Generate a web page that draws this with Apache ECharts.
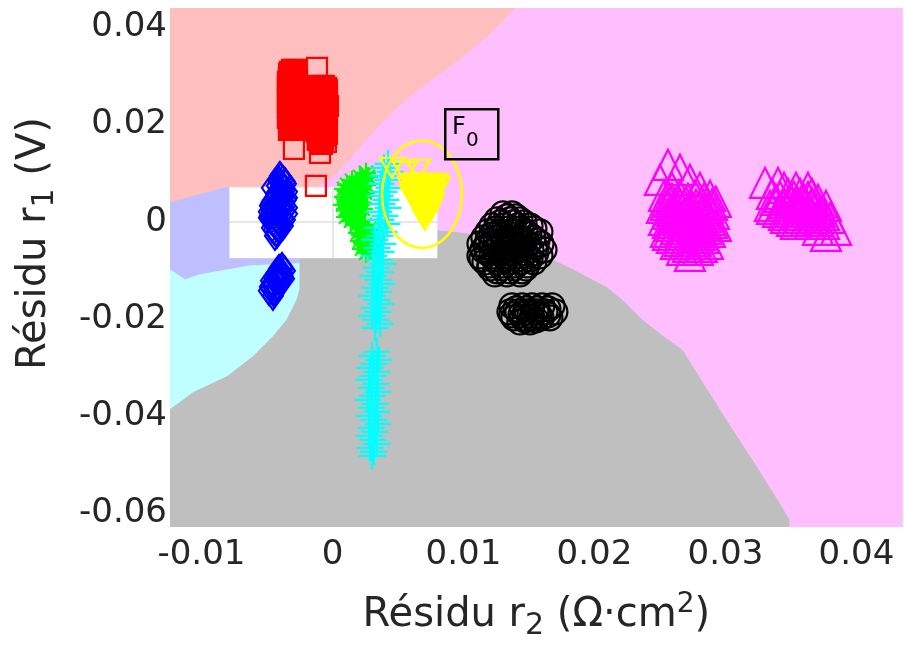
<!DOCTYPE html>
<html><head><meta charset="utf-8">
<script src="https://cdn.jsdelivr.net/npm/echarts@6.0.0/dist/echarts.min.js"></script>
<style>html,body{margin:0;padding:0;background:#fff}#c{width:904px;height:647px}</style>
</head><body><div id="c"></div>
<script>
// ---- axis ticks ----
const xTicks = [-0.01, 0, 0.01, 0.02, 0.03, 0.04];
const yTicks = [-0.06, -0.04, -0.02, 0, 0.02, 0.04];
const xRange = [-0.0124, 0.04353];
const yRange = [-0.0628, 0.044];

// ---- decision regions (polygons in data units) ----
const regionRouge = [[-0.0124,0.044],[0.01401,0.044],[0.01202,0.03848],[0.00973,0.03333],[0.00744,0.02881],[0.00592,0.02572],[0.00401,0.02099],[0.00263,0.01687],[0.00111,0.01214],[-0.00019,0.00864],[-0.00111,0.0072],[-0.0079,0.0072],[-0.01011,0.00556],[-0.0124,0.00391]];
const regionBleu = [[-0.0124,0.00391],[-0.01011,0.00556],[-0.0079,0.0072],[-0.0079,-0.0076],[-0.00248,-0.0076],[-0.00248,-0.00864],[-0.0063,-0.00905],[-0.01011,-0.01091],[-0.01126,-0.01193],[-0.0124,-0.00988]];
const regionCyan = [[-0.0124,-0.00988],[-0.01126,-0.01193],[-0.01011,-0.01091],[-0.0063,-0.00905],[-0.00248,-0.00864],[-0.00248,-0.01399],[-0.00271,-0.01605],[-0.00347,-0.02016],[-0.00454,-0.02366],[-0.00607,-0.02778],[-0.00805,-0.03189],[-0.01065,-0.03519],[-0.0124,-0.03868]];
const regionNoir = [[-0.0124,-0.03868],[-0.01065,-0.03519],[-0.00805,-0.03189],[-0.00607,-0.02778],[-0.00454,-0.02366],[-0.00347,-0.02016],[-0.00271,-0.01605],[-0.00248,-0.01399],[-0.00248,-0.0076],[0.00805,-0.0076],[0.00805,-0.00165],[0.01027,-0.00226],[0.01279,-0.00412],[0.01584,-0.00638],[0.01851,-0.00988],[0.02095,-0.01337],[0.02218,-0.01605],[0.0237,-0.02016],[0.02538,-0.02366],[0.02676,-0.02634],[0.02805,-0.03189],[0.03011,-0.04074],[0.0321,-0.04897],[0.03416,-0.05782],[0.03492,-0.06132],[0.03492,-0.0628],[-0.0124,-0.0628]];
const regionMagenta = [[0.01401,0.044],[0.04353,0.044],[0.04353,-0.0628],[0.03492,-0.0628],[0.03492,-0.06132],[0.03416,-0.05782],[0.0321,-0.04897],[0.03011,-0.04074],[0.02805,-0.03189],[0.02676,-0.02634],[0.02538,-0.02366],[0.0237,-0.02016],[0.02218,-0.01605],[0.02095,-0.01337],[0.01851,-0.00988],[0.01584,-0.00638],[0.01279,-0.00412],[0.01027,-0.00226],[0.00805,-0.00165],[0.00805,0.0072],[-0.00111,0.0072],[-0.00019,0.00864],[0.00111,0.01214],[0.00263,0.01687],[0.00401,0.02099],[0.00592,0.02572],[0.00744,0.02881],[0.00973,0.03333],[0.01202,0.03848]];

// ---- residual clusters [r2, r1] ----
const redSquares = [[-0.00309,0.03128],[-0.00279,0.03128],[-0.00332,0.03045],[-0.00294,0.03045],[-0.00317,0.02963],[-0.00271,0.02963],[-0.0034,0.02881],[-0.00286,0.02881],[-0.00309,0.02798],[-0.00271,0.02798],[-0.00332,0.02716],[-0.00294,0.02716],[-0.00317,0.02634],[-0.00279,0.02634],[-0.0034,0.02551],[-0.00302,0.02551],[-0.00324,0.02469],[-0.00271,0.02469],[-0.00309,0.02387],[-0.00286,0.02387],[-0.00332,0.02305],[-0.00279,0.02305],[-0.00317,0.02222],[-0.00294,0.02222],[-0.0034,0.0214],[-0.00271,0.0214],[-0.00324,0.02058],[-0.00302,0.02058],[-0.00309,0.01975],[-0.00279,0.01975],[-0.00332,0.01893],[-0.00286,0.01893],[-0.00294,0.01502],
 [-0.00324,0.03086],[-0.00286,0.03086],[-0.00309,0.03004],[-0.00271,0.03004],[-0.00332,0.02922],[-0.00294,0.02922],[-0.00317,0.0284],[-0.00279,0.0284],[-0.0034,0.02757],[-0.00302,0.02757],[-0.00324,0.02675],[-0.00271,0.02675],[-0.00309,0.02593],[-0.00286,0.02593],[-0.00332,0.0251],[-0.00294,0.0251],[-0.00317,0.02428],[-0.00279,0.02428],[-0.0034,0.02346],[-0.00302,0.02346],[-0.00324,0.02263],[-0.00271,0.02263],[-0.00309,0.02181],[-0.00286,0.02181],[-0.00332,0.02099],[-0.00294,0.02099],[-0.00317,0.02016],[-0.00279,0.02016],[-0.00324,0.01934],[-0.00302,0.01934],
 [-0.00118,0.03169],[-0.00111,0.02798],[-0.00065,0.02798],[-0.00088,0.02716],[-0.00042,0.02716],[-0.00118,0.02634],[-0.00073,0.02634],[-0.00095,0.02551],[-0.0005,0.02551],[-0.00111,0.02469],[-0.00057,0.02469],[-0.0008,0.02387],[-0.00034,0.02387],[-0.00118,0.02305],[-0.00065,0.02305],[-0.00095,0.02222],[-0.0005,0.02222],[-0.00111,0.0214],[-0.00073,0.0214],[-0.00088,0.02058],[-0.00042,0.02058],[-0.00118,0.01975],[-0.00057,0.01975],[-0.00103,0.01893],[-0.00065,0.01893],[-0.0008,0.01811],[-0.00042,0.01811],[-0.00111,0.01728],[-0.00073,0.01728],[-0.00095,0.01646],[-0.0005,0.01646],[-0.00095,0.0142],[-0.00126,0.00741],
 [-0.00095,0.02757],[-0.0005,0.02757],[-0.00111,0.02675],[-0.00073,0.02675],[-0.00088,0.02593],[-0.00042,0.02593],[-0.00118,0.0251],[-0.00065,0.0251],[-0.00095,0.02428],[-0.0005,0.02428],[-0.00111,0.02346],[-0.00073,0.02346],[-0.00088,0.02263],[-0.00042,0.02263],[-0.00118,0.02181],[-0.00057,0.02181],[-0.00095,0.02099],[-0.00065,0.02099],[-0.00111,0.02016],[-0.0005,0.02016],[-0.0008,0.01934],[-0.00042,0.01934],[-0.00118,0.01852],[-0.00065,0.01852],[-0.00095,0.0177],[-0.0005,0.0177],[-0.00111,0.01687],[-0.00073,0.01687],[-0.0008,0.01605]];
const blueDiamonds = [[-0.00401,0.00947],[-0.00378,0.00864],[-0.00416,0.00864],[-0.00355,0.00782],[-0.00393,0.00782],[-0.0037,0.007],[-0.00462,0.007],[-0.00347,0.00617],[-0.00393,0.00617],[-0.0037,0.00535],[-0.00416,0.00535],[-0.00355,0.00453],[-0.00401,0.00453],[-0.00447,0.00453],[-0.00378,0.0037],[-0.00424,0.0037],[-0.00469,0.0037],[-0.00347,0.00288],[-0.00401,0.00288],[-0.00454,0.00288],[-0.0037,0.00206],[-0.00424,0.00206],[-0.00485,0.00206],[-0.00393,0.00123],[-0.00447,0.00123],[-0.00477,0.00123],[-0.00363,0.00041],[-0.00416,0.00041],[-0.00469,0.00041],[-0.00393,-0.00041],[-0.00439,-0.00041],[-0.00416,-0.00123],[-0.00462,-0.00123],[-0.00431,-0.00206],[-0.00439,-0.00288],
 [-0.00393,0.00905],[-0.00363,0.00823],[-0.00408,0.00823],[-0.00378,0.00741],[-0.00424,0.00741],[-0.00363,0.00658],[-0.00408,0.00658],[-0.00378,0.00576],[-0.00431,0.00576],[-0.00347,0.00494],[-0.00393,0.00494],[-0.00439,0.00494],[-0.0037,0.00412],[-0.00416,0.00412],[-0.00462,0.00412],[-0.00363,0.00329],[-0.00439,0.00329],[-0.00477,0.00329],[-0.00393,0.00247],[-0.00439,0.00247],[-0.00469,0.00247],[-0.00347,0.00165],[-0.00408,0.00165],[-0.00462,0.00165],[-0.00378,0.00082],[-0.00431,0.00082],[-0.00485,0.00082],[-0.00408,0.0],[-0.00454,0.0],[-0.00378,-0.00082],[-0.00424,-0.00082],[-0.00447,-0.00165],[-0.00408,-0.00165],[-0.00424,-0.00247],
 [-0.00385,-0.00926],[-0.00363,-0.01008],[-0.00408,-0.01008],[-0.00393,-0.01091],[-0.00431,-0.01091],[-0.0037,-0.01173],[-0.00416,-0.01173],[-0.00401,-0.01255],[-0.00454,-0.01255],[-0.00431,-0.01337],[-0.00477,-0.01337],[-0.00447,-0.0142],[-0.00485,-0.0142],[-0.00454,-0.01523],
 [-0.00378,-0.00967],[-0.00408,-0.00967],[-0.00385,-0.01049],[-0.00424,-0.01049],[-0.00378,-0.01132],[-0.00408,-0.01132],[-0.00447,-0.01132],[-0.00393,-0.01214],[-0.00431,-0.01214],[-0.00469,-0.01214],[-0.00416,-0.01296],[-0.00462,-0.01296],[-0.00439,-0.01379],[-0.00469,-0.01379],[-0.00447,-0.01461]];
const greenStars = [[0.00256,0.01008],[0.0021,0.00926],[0.00271,0.00926],[0.00149,0.00844],[0.00233,0.00844],[0.00111,0.00761],[0.00187,0.00761],[0.00256,0.00761],[0.00088,0.00679],[0.00149,0.00679],[0.00218,0.00679],[0.00118,0.00597],[0.00187,0.00597],[0.00248,0.00597],[0.00088,0.00514],[0.00156,0.00514],[0.00225,0.00514],[0.00111,0.00432],[0.00179,0.00432],[0.0008,0.0035],[0.00141,0.0035],[0.0021,0.0035],[0.00103,0.00267],[0.00172,0.00267],[0.00233,0.00267],[0.00134,0.00185],[0.00195,0.00185],[0.00103,0.00103],[0.00164,0.00103],[0.00141,0.00021],[0.0021,0.00021],[0.00187,-0.00062],[0.00248,-0.00062],[0.00218,-0.00144],[0.00279,-0.00144],[0.00195,-0.00226],[0.00256,-0.00226],[0.00233,-0.00309],[0.00294,-0.00309],[0.0021,-0.00391],[0.00271,-0.00391],[0.00241,-0.00473],[0.00294,-0.00473],[0.00225,-0.00556],[0.00279,-0.00556],[0.00256,-0.00638],
 [0.00179,0.00802],[0.0021,0.00802],[0.00141,0.0072],[0.00225,0.0072],[0.00111,0.00638],[0.00179,0.00638],[0.00149,0.00556],[0.00218,0.00556],[0.00126,0.00473],[0.00195,0.00473],[0.00156,0.00391],[0.00225,0.00391],[0.00118,0.00309],[0.00195,0.00309],[0.00149,0.00226],[0.00126,0.00144],[0.00187,0.00144],[0.00172,0.00062],[0.00225,-0.00103],[0.00248,-0.00185],[0.00218,-0.00267],[0.00256,-0.0035],[0.00233,-0.00432],[0.00263,-0.00514]];
const cyanPlus = [[0.00424,0.01193],[0.00393,0.01111],[0.00439,0.01029],[0.00385,0.00947],[0.00416,0.00864],[0.0037,0.00782],[0.00431,0.007],[0.00393,0.00617],[0.00363,0.00535],[0.00408,0.00453],[0.00378,0.0037],[0.00424,0.00288],[0.00355,0.00206],[0.00401,0.00123],[0.0037,0.00041],[0.00416,-0.00041],[0.00347,-0.00123],[0.00393,-0.00206],[0.00363,-0.00288],[0.00324,-0.0037],[0.00385,-0.00453],[0.0034,-0.00535],[0.0037,-0.00617],[0.00317,-0.007],[0.00355,-0.00782],[0.00385,-0.00864],[0.00332,-0.00947],[0.00363,-0.01029],[0.00309,-0.01111],[0.00347,-0.01193],[0.00378,-0.01276],[0.00324,-0.01358],[0.00355,-0.0144],[0.00302,-0.01523],[0.0034,-0.01605],[0.0037,-0.01687],[0.00317,-0.0177],[0.00347,-0.01852],[0.00302,-0.01934],[0.00332,-0.02016],[0.00363,-0.02099],[0.00324,-0.02181],
 [0.0034,-0.02675],[0.00302,-0.02757],[0.00355,-0.0284],[0.00317,-0.02922],[0.00286,-0.03004],[0.0034,-0.03086],[0.00309,-0.03169],[0.00279,-0.03251],[0.00332,-0.03333],[0.00294,-0.03416],[0.00347,-0.03498],[0.00302,-0.0358],[0.00271,-0.03663],[0.00324,-0.03745],[0.00294,-0.03827],[0.0034,-0.03909],[0.00279,-0.03992],[0.00317,-0.04074],[0.00347,-0.04156],[0.00294,-0.04239],[0.00324,-0.04321],[0.00279,-0.04403],[0.00309,-0.04486],[0.0034,-0.04568],[0.00286,-0.0465],[0.00317,-0.04733],[0.00302,-0.04815]];
const yellowF0 = [[0.00454,0.01111],[0.00553,0.01029],[0.00653,0.0107],[0.00607,0.00782],[0.00668,0.00782],[0.00729,0.00782],[0.0079,0.00782],[0.00592,0.007],[0.00645,0.007],[0.00698,0.007],[0.00752,0.007],[0.00805,0.007],[0.00622,0.00617],[0.00676,0.00617],[0.00729,0.00617],[0.00782,0.00617],[0.00607,0.00535],[0.0066,0.00535],[0.00714,0.00535],[0.00767,0.00535],[0.00637,0.00453],[0.00691,0.00453],[0.00744,0.00453],[0.00653,0.0037],[0.00706,0.0037],[0.0076,0.0037],[0.00668,0.00288],[0.00721,0.00288],[0.00683,0.00206],[0.00737,0.00206],[0.00698,0.00123],[0.00706,0.00041],
 [0.0063,0.00741],[0.00714,0.00741],[0.00775,0.00741],[0.0066,0.00658],[0.00721,0.00658],[0.00645,0.00576],[0.00698,0.00576],[0.00752,0.00576],[0.00676,0.00494],[0.00729,0.00494],[0.00668,0.00412],[0.00721,0.00412],[0.00691,0.00329],[0.00744,0.00329],[0.00706,0.00247],[0.00714,0.00165]];
const blackCircles = [[0.01302,0.00165],[0.0137,0.00165],[0.01256,0.00041],[0.01355,0.00041],[0.01431,0.00041],[0.01218,-0.00082],[0.01317,-0.00082],[0.01416,-0.00082],[0.01508,-0.00082],[0.01187,-0.00206],[0.01279,-0.00206],[0.0137,-0.00206],[0.0147,-0.00206],[0.01584,-0.00206],[0.01156,-0.00329],[0.01248,-0.00329],[0.0134,-0.00329],[0.01431,-0.00329],[0.01531,-0.00329],[0.01126,-0.00453],[0.01218,-0.00453],[0.01309,-0.00453],[0.01401,-0.00453],[0.01492,-0.00453],[0.01592,-0.00453],[0.01149,-0.00576],[0.0124,-0.00576],[0.01332,-0.00576],[0.01424,-0.00576],[0.01515,-0.00576],[0.01615,-0.00576],[0.01126,-0.007],[0.01218,-0.007],[0.01309,-0.007],[0.01401,-0.007],[0.01492,-0.007],[0.01584,-0.007],[0.01164,-0.00823],[0.01256,-0.00823],[0.01347,-0.00823],[0.01439,-0.00823],[0.01538,-0.00823],[0.01202,-0.00947],[0.01294,-0.00947],[0.01385,-0.00947],[0.01477,-0.00947],[0.0124,-0.0107],[0.01332,-0.0107],[0.01431,-0.0107],
 [0.01332,0.00103],[0.01401,0.00103],[0.01279,-0.00021],[0.01378,-0.00021],[0.01462,-0.00021],[0.01248,-0.00144],[0.01347,-0.00144],[0.01439,-0.00144],[0.01538,-0.00144],[0.01218,-0.00267],[0.01309,-0.00267],[0.01401,-0.00267],[0.015,-0.00267],[0.01187,-0.00391],[0.01279,-0.00391],[0.0137,-0.00391],[0.01462,-0.00391],[0.01561,-0.00391],[0.01172,-0.00514],[0.01263,-0.00514],[0.01355,-0.00514],[0.01447,-0.00514],[0.01546,-0.00514],[0.01187,-0.00638],[0.01279,-0.00638],[0.0137,-0.00638],[0.01462,-0.00638],[0.01553,-0.00638],[0.01141,-0.00761],[0.01233,-0.00761],[0.01324,-0.00761],[0.01416,-0.00761],[0.01508,-0.00761],[0.01202,-0.00885],[0.01302,-0.00885],[0.01393,-0.00885],[0.01485,-0.00885],[0.01256,-0.01008],[0.01355,-0.01008],[0.01447,-0.01008],
 [0.0137,-0.01728],[0.01447,-0.01728],[0.01523,-0.01728],[0.01599,-0.01728],[0.01676,-0.01728],[0.01355,-0.01852],[0.01416,-0.01852],[0.01485,-0.01852],[0.01553,-0.01852],[0.01622,-0.01852],[0.01698,-0.01852],[0.01385,-0.01975],[0.01454,-0.01975],[0.01523,-0.01975],[0.01592,-0.01975],[0.0166,-0.01975],[0.01431,-0.02058],[0.01508,-0.02058],
 [0.01401,-0.0179],[0.01477,-0.0179],[0.01561,-0.0179],[0.01645,-0.0179],[0.0137,-0.01914],[0.01439,-0.01914],[0.01508,-0.01914],[0.01576,-0.01914],[0.01645,-0.01914],[0.0147,-0.02016],[0.01553,-0.02016]];
const magentaTriangles = [[0.02561,0.01173],[0.02653,0.0107],[0.025,0.00864],[0.02729,0.00864],[0.02592,0.007],[0.02805,0.007],[0.02531,0.00535],[0.02653,0.00535],[0.02767,0.00535],[0.02882,0.00535],[0.02576,0.00412],[0.02698,0.00412],[0.0282,0.00412],[0.02927,0.00412],[0.02515,0.00288],[0.02622,0.00288],[0.02744,0.00288],[0.02866,0.00288],[0.02561,0.00165],[0.02683,0.00165],[0.02805,0.00165],[0.02912,0.00165],[0.02531,0.00041],[0.02637,0.00041],[0.0276,0.00041],[0.02882,0.00041],[0.02576,-0.00082],[0.02698,-0.00082],[0.0282,-0.00082],[0.02927,-0.00082],[0.02546,-0.00206],[0.02653,-0.00206],[0.02775,-0.00206],[0.02882,-0.00206],[0.02592,-0.00329],[0.02714,-0.00329],[0.02836,-0.00329],[0.02622,-0.00453],[0.02744,-0.00453],[0.02866,-0.00453],[0.02668,-0.00576],[0.0279,-0.00576],[0.02729,-0.007],
 [0.02592,0.00473],[0.02714,0.00473],[0.02836,0.00473],[0.02546,0.0035],[0.02653,0.0035],[0.02775,0.0035],[0.02897,0.0035],[0.02592,0.00226],[0.02714,0.00226],[0.02836,0.00226],[0.02622,0.00103],[0.02744,0.00103],[0.02851,0.00103],[0.02561,-0.00021],[0.02668,-0.00021],[0.0279,-0.00021],[0.02897,-0.00021],[0.02622,-0.00144],[0.02744,-0.00144],[0.02851,-0.00144],[0.02561,-0.00267],[0.02683,-0.00267],[0.02805,-0.00267],[0.02653,-0.00391],[0.02775,-0.00391],[0.02714,-0.00514],[0.0282,-0.00514],
 [0.03302,0.00802],[0.03401,0.00802],[0.03447,0.007],[0.03538,0.007],[0.0363,0.007],[0.03355,0.00576],[0.03477,0.00576],[0.03569,0.00576],[0.0366,0.00576],[0.03385,0.00453],[0.03492,0.00453],[0.03599,0.00453],[0.03706,0.00453],[0.0334,0.00329],[0.03447,0.00329],[0.03553,0.00329],[0.0366,0.00329],[0.03767,0.00329],[0.03401,0.00206],[0.03508,0.00206],[0.03615,0.00206],[0.03721,0.00206],[0.03462,0.00082],[0.03569,0.00082],[0.03676,0.00082],[0.03798,0.00082],[0.03538,-0.00041],[0.03645,-0.00041],[0.03752,-0.00041],[0.03706,-0.00165],[0.03844,-0.00165],[0.03767,-0.00288],
 [0.03416,0.00514],[0.03523,0.00514],[0.0363,0.00514],[0.03447,0.00391],[0.03553,0.00391],[0.0366,0.00391],[0.03355,0.00267],[0.03477,0.00267],[0.03584,0.00267],[0.03691,0.00267],[0.03447,0.00144],[0.03553,0.00144],[0.0366,0.00144],[0.03752,0.00144],[0.03508,0.00021],[0.03615,0.00021],[0.03706,0.00021]];
// F0 highlight ellipse: centre r2, centre r1, half-width, half-height
const ellipseF0 = [0.00683, 0.00566, 0.00305, 0.011];

const FONT = "'DejaVu Sans', sans-serif";
const INK = '#262626';
const regionList = [
  {pts: regionRouge, color: '#ffbfbf'},
  {pts: regionBleu, color: '#bfbfff'},
  {pts: regionCyan, color: '#bfffff'},
  {pts: regionNoir, color: '#bfbfbf'},
  {pts: regionMagenta, color: '#ffbfff'}
];

function markerSeries(data, symbol, size, color, extra) {
  return Object.assign({
    type: 'scatter', data: data, symbol: symbol, symbolSize: size, silent: true, z: 5,
    itemStyle: {color: 'transparent', borderColor: color, borderWidth: 2.2, opacity: 1}
  }, extra || {});
}

const nameRich = {
  a: {fontFamily: FONT, fontSize: 40, color: INK, lineHeight: 50, verticalAlign: 'middle'},
  s: {fontFamily: FONT, fontSize: 30, color: INK, lineHeight: 4, verticalAlign: 'bottom'},
  p: {fontFamily: FONT, fontSize: 28, color: INK, lineHeight: 6, verticalAlign: 'top'}
};

const chart = echarts.init(document.getElementById('c'), null, {renderer: 'canvas'});
chart.setOption({
  animation: false,
  backgroundColor: '#ffffff',
  grid: {left: 170, right: 1.3, top: 8, bottom: 120, containLabel: false},
  xAxis: {
    type: 'value', min: xRange[0], max: xRange[1],
    axisLine: {show: false}, axisTick: {show: false, customValues: xTicks},
    axisLabel: {customValues: xTicks, fontFamily: FONT, fontSize: 34, color: INK, margin: 11},
    splitLine: {show: true, lineStyle: {color: '#dfdfdf', width: 1.5}},
    name: '{a|Résidu r}{s|2}{a| (Ω·cm}{p|2}{a|)}',
    nameLocation: 'middle', nameGap: 64,
    nameTextStyle: {fontFamily: FONT, fontSize: 40, color: INK, rich: nameRich}
  },
  yAxis: {
    type: 'value', min: yRange[0], max: yRange[1],
    axisLine: {show: false}, axisTick: {show: false, customValues: yTicks},
    axisLabel: {customValues: yTicks, fontFamily: FONT, fontSize: 34, color: INK, margin: 3, padding: [9, 0, 0, 0]},
    splitLine: {show: true, lineStyle: {color: '#dfdfdf', width: 1.5}},
    name: '{a|Résidu r}{s|1}{a| (V)}',
    nameLocation: 'middle', nameGap: 110, nameRotate: 90,
    nameTextStyle: {fontFamily: FONT, fontSize: 40, color: INK, padding: [0, 0, 0, 48], rich: nameRich}
  },
  graphic: [
    {type: 'rect', left: 444, top: 108, z: 100, shape: {width: 53, height: 50},
     style: {fill: 'transparent', stroke: '#000', lineWidth: 2.5}},
    {type: 'text', left: 452, top: 116, z: 101,
     style: {text: 'F', fontFamily: FONT, fontSize: 24, fill: '#000'}},
    {type: 'text', left: 466, top: 131, z: 101,
     style: {text: '0', fontFamily: FONT, fontSize: 20, fill: '#000'}}
  ],
  series: [
    {
      type: 'custom', coordinateSystem: 'cartesian2d', silent: true, z: 1, clip: true,
      data: regionList.map(r => r.pts[0]),
      renderItem: function (params, api) {
        const r = regionList[params.dataIndex];
        return {type: 'polygon', shape: {points: r.pts.map(p => api.coord(p))},
                style: {fill: r.color, stroke: r.color, lineWidth: 1}};
      }
    },
    markerSeries(blueDiamonds, 'diamond', [20, 28], '#0000ff'),
    markerSeries(redSquares, 'rect', 20, '#ff0000'),
    markerSeries(greenStars, 'path://M10,0L10,20M0,10L20,10M3,3L17,17M17,3L3,17', 20, '#00ff00'),
    markerSeries(cyanPlus, 'path://M10,0L10,20M0,10L20,10', 27, '#00ffff'),
    markerSeries(yellowF0, 'triangle', [24, 20], '#ffff00', {symbolRotate: 180}),
    markerSeries(blackCircles, 'circle', 25, '#000000'),
    markerSeries(magentaTriangles, 'triangle', 30, '#ff00ff'),
    {
      type: 'custom', coordinateSystem: 'cartesian2d', silent: true, z: 6,
      data: [ellipseF0],
      renderItem: function (params, api) {
        const c = api.coord([api.value(0), api.value(1)]);
        const s = api.size([api.value(2), api.value(3)]);
        return {type: 'ellipse', shape: {cx: c[0], cy: c[1], rx: s[0], ry: s[1]},
                style: {fill: 'transparent', stroke: '#ffff00', lineWidth: 2.5}};
      }
    }
  ]
});
</script></body></html>
